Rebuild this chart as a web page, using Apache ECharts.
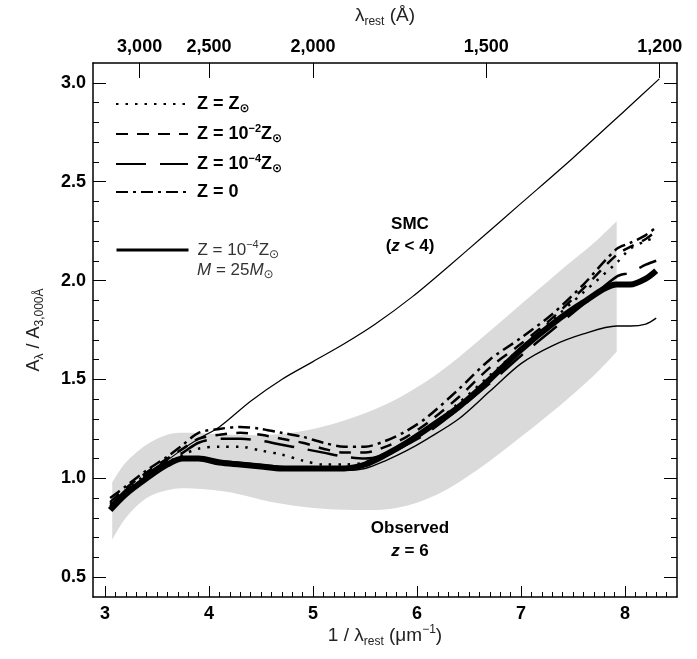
<!DOCTYPE html>
<html><head><meta charset="utf-8">
<script src="https://cdn.jsdelivr.net/npm/echarts@6/dist/echarts.min.js"></script>
<style>html,body{margin:0;padding:0;background:#fff}#c{width:697px;height:659px}</style>
</head><body><div id="c"></div>
<script>
// ---------------- data ----------------
const modelX   = [3.05,3.2,3.4,3.6,3.75,3.9,4.1,4.3,4.5,4.7,4.9,5.1,5.3,5.5,5.7,5.9,6.1,6.4,6.7,7.0,7.3,7.6,7.92,8.05,8.2,8.3];
const zSolar   = [0.87,0.94,1.02,1.08,1.12,1.15,1.16,1.16,1.14,1.12,1.09,1.07,1.07,1.08,1.12,1.18,1.25,1.38,1.52,1.66,1.80,1.94,2.09,2.16,2.20,2.22];
const zE2      = [0.88,0.95,1.03,1.10,1.15,1.20,1.22,1.23,1.22,1.20,1.18,1.15,1.13,1.13,1.16,1.21,1.28,1.41,1.56,1.68,1.81,1.96,2.13,2.17,2.21,2.25];
const zE4      = [0.86,0.94,1.02,1.09,1.13,1.18,1.20,1.20,1.19,1.17,1.15,1.13,1.11,1.10,1.12,1.17,1.23,1.35,1.48,1.62,1.75,1.88,2.02,2.04,2.08,2.10];
const zZero    = [0.90,0.96,1.04,1.11,1.17,1.23,1.25,1.26,1.25,1.23,1.21,1.18,1.16,1.16,1.19,1.24,1.31,1.45,1.60,1.71,1.83,1.98,2.16,2.19,2.23,2.27];
const zE4M25   = [0.84,0.92,1.00,1.07,1.10,1.10,1.08,1.07,1.06,1.05,1.05,1.05,1.05,1.07,1.12,1.18,1.25,1.36,1.50,1.65,1.78,1.89,1.98,1.98,2.01,2.05];
const thinSolid= [0.86,0.93,1.01,1.07,1.10,1.10,1.09,1.08,1.07,1.06,1.05,1.04,1.04,1.05,1.09,1.14,1.20,1.30,1.44,1.58,1.67,1.73,1.77,1.77,1.78,1.81];
const smcX     = [3.05,3.3,3.5,3.7,3.9,4.1,4.4,4.7,5.0,5.3,5.6,5.96,6.3,6.63,7.0,7.5,8.0,8.33];
const smcY     = [0.86,0.96,1.05,1.13,1.20,1.26,1.39,1.50,1.59,1.68,1.78,1.92,2.07,2.22,2.39,2.62,2.86,3.02];
const bandX    = [3.07,3.2,3.4,3.6,3.8,4.2,4.6,5.0,5.4,5.8,6.2,6.6,7.0,7.4,7.7,7.92];
const bandLow  = [0.69,0.80,0.90,0.94,0.95,0.93,0.88,0.85,0.84,0.85,0.92,1.05,1.21,1.38,1.52,1.64];
const bandHigh = [0.98,1.08,1.17,1.22,1.23,1.22,1.22,1.25,1.31,1.40,1.53,1.70,1.88,2.06,2.19,2.30];
const bottomTicks = [3,4,5,6,7,8];
const topTicksA   = [3000,2500,2000,1500,1200];
const yTicks      = [0.5,1.0,1.5,2.0,2.5,3.0];

// ---------------- helpers ----------------
const FONT = "'Liberation Sans', Arial, Helvetica, sans-serif";
const pts = (xs, ys) => xs.map((x, i) => [x, ys[i]]);
const minorX = []; for (let k = 30; k <= 84; k++) minorX.push(k / 10);
const minorY = []; for (let k = 5; k <= 30; k++) minorY.push(k / 10);
const topTickPos = topTicksA.map(l => 1e4 / l);
const XMIN = 2.885, XMAX = 8.5, YMIN = 0.4, YMAX = 3.1;
const AX = { color: '#000', width: 1.5 };

const nameRich = {
  t: { fontFamily: FONT, fontSize: 19, color: '#222', lineHeight: 24 },
  s: { fontFamily: FONT, fontSize: 12, color: '#222', lineHeight: 12, verticalAlign: 'bottom' },
  p: { fontFamily: FONT, fontSize: 12, color: '#222', lineHeight: 12, verticalAlign: 'top' }
};
const yNameRich = {
  t: { fontFamily: FONT, fontSize: 18, color: '#222', lineHeight: 24 },
  s: { fontFamily: FONT, fontSize: 12, color: '#222', lineHeight: 12, verticalAlign: 'bottom' }
};
const legRich = {
  sp: { width: 4 },
  b: { fontFamily: FONT, fontWeight: 'bold', fontSize: 18, color: '#000', lineHeight: 22 },
  bs: { fontFamily: 'DejaVu Sans', fontWeight: 'bold', fontSize: 12, color: '#000', lineHeight: 12, verticalAlign: 'bottom' },
  bp: { fontFamily: FONT, fontWeight: 'bold', fontSize: 11, color: '#000', lineHeight: 12, verticalAlign: 'top' },
  r: { fontFamily: FONT, fontSize: 17, color: '#333', lineHeight: 22 },
  rs: { fontFamily: 'DejaVu Sans', fontSize: 12, color: '#333', lineHeight: 12, verticalAlign: 'bottom' },
  rp: { fontFamily: FONT, fontSize: 11, color: '#333', lineHeight: 12, verticalAlign: 'top' }
};
const legendText = {
  'Z = Z⊙': '{sp|}{b|Z = Z}{bs|⊙}',
  'Z = 10⁻²Z⊙': '{sp|}{b|Z = 10}{bp|−2}{b|Z}{bs|⊙}',
  'Z = 10⁻⁴Z⊙': '{sp|}{b|Z = 10}{bp|−4}{b|Z}{bs|⊙}',
  'Z = 0': '{sp|}{b|Z = 0}',
  'Z = 10⁻⁴Z⊙, M = 25M⊙': '{sp|}{r|Z = 10}{rp|−4}{r|Z}{rs|⊙}'
};

function line(name, data, width, type, z) {
  return { type: 'line', name, data, smooth: 0.3, symbol: 'none', showSymbol: false,
    lineStyle: { color: '#000', width, type, cap: 'butt' }, itemStyle: { color: '#000' }, z, silent: true, animation: false };
}
function xAx(o) { return Object.assign({ type: 'value', min: XMIN, max: XMAX, z: 10, splitLine: { show: false } }, o); }
function yAx(o) { return Object.assign({ type: 'value', min: YMIN, max: YMAX, z: 10, splitLine: { show: false } }, o); }
const tickStyle = { color: '#000', width: 1 };
const lblStyle = { fontFamily: FONT, fontWeight: 'bold', fontSize: 18, color: '#000' };

// Catmull-Rom style smooth path through pixel points (open curve)
function smoothSeg(p, start) {
  let d = (start ? 'M' : 'L') + p[0][0].toFixed(2) + ',' + p[0][1].toFixed(2);
  for (let i = 0; i < p.length - 1; i++) {
    const p0 = p[i - 1] || p[i], p1 = p[i], p2 = p[i + 1], p3 = p[i + 2] || p[i + 1];
    const c1 = [p1[0] + (p2[0] - p0[0]) / 6, p1[1] + (p2[1] - p0[1]) / 6];
    const c2 = [p2[0] - (p3[0] - p1[0]) / 6, p2[1] - (p3[1] - p1[1]) / 6];
    d += 'C' + c1[0].toFixed(2) + ',' + c1[1].toFixed(2) + ' ' + c2[0].toFixed(2) + ',' + c2[1].toFixed(2) +
         ' ' + p2[0].toFixed(2) + ',' + p2[1].toFixed(2);
  }
  return d;
}

const chart = echarts.init(document.getElementById('c'), null, { renderer: 'canvas' });
chart.setOption({
  animation: false,
  backgroundColor: '#fff',
  grid: { left: 93, right: 20, top: 63, bottom: 62, containLabel: false },
  xAxis: [
    xAx({ position: 'bottom',
      axisLine: { show: true, onZero: false, lineStyle: AX },
      axisTick: { show: true, inside: true, length: 5, customValues: minorX, lineStyle: tickStyle },
      axisLabel: { show: false },
      name: '{t|1 / λ}{s|rest}{t| (μm}{p|−1}{t|)}', nameLocation: 'middle', nameGap: 27,
      nameTextStyle: { rich: nameRich } }),
    xAx({ position: 'bottom',
      axisLine: { show: false },
      axisTick: { show: true, inside: true, length: 11, customValues: bottomTicks, lineStyle: tickStyle },
      axisLabel: Object.assign({ show: true, customValues: bottomTicks, margin: 8, formatter: v => String(v) }, lblStyle) }),
    xAx({ position: 'top',
      axisLine: { show: true, onZero: false, lineStyle: AX },
      axisTick: { show: true, inside: true, length: 15, customValues: topTickPos, lineStyle: tickStyle },
      axisLabel: Object.assign({ show: true, customValues: topTickPos, margin: 7,
                   formatter: v => Math.round(1e4 / v).toLocaleString('en-US') }, lblStyle),
      name: '{t|λ}{s|rest}{t| (Å)}', nameLocation: 'middle', nameGap: 35, nameTextStyle: { rich: nameRich } })
  ],
  yAxis: [
    yAx({ position: 'left',
      axisLine: { show: true, onZero: false, lineStyle: AX },
      axisTick: { show: true, inside: true, length: 6, customValues: minorY, lineStyle: tickStyle },
      axisLabel: Object.assign({ show: true, customValues: yTicks, margin: 7, formatter: v => v.toFixed(1) }, lblStyle),
      name: '{t|A}{s|λ}{t| / A}{s|3,000Å}', nameLocation: 'middle', nameGap: 47, nameRotate: 90,
      nameTextStyle: { rich: yNameRich } }),
    yAx({ position: 'left', axisLine: { show: false },
      axisTick: { show: true, inside: true, length: 13, customValues: yTicks, lineStyle: tickStyle },
      axisLabel: { show: false } }),
    yAx({ position: 'right',
      axisLine: { show: true, onZero: false, lineStyle: AX },
      axisTick: { show: true, inside: true, length: 6, customValues: minorY, lineStyle: tickStyle },
      axisLabel: { show: false } }),
    yAx({ position: 'right', axisLine: { show: false },
      axisTick: { show: true, inside: true, length: 13, customValues: yTicks, lineStyle: tickStyle },
      axisLabel: { show: false } })
  ],
  legend: [
    { orient: 'vertical', left: 115, top: 95, padding: 0, itemWidth: 72, itemHeight: 4, itemGap: 8, selectedMode: false,
      data: ['Z = Z⊙', 'Z = 10⁻²Z⊙', 'Z = 10⁻⁴Z⊙', 'Z = 0'],
      formatter: n => legendText[n], textStyle: { rich: legRich },
      itemStyle: { color: 'rgba(0,0,0,0)', borderWidth: 0 } },
    { orient: 'vertical', left: 115, top: 239, padding: 0, itemWidth: 72, itemHeight: 4, selectedMode: false,
      data: ['Z = 10⁻⁴Z⊙, M = 25M⊙'],
      formatter: n => legendText[n], textStyle: { rich: legRich },
      lineStyle: { width: 3 },
      itemStyle: { color: 'rgba(0,0,0,0)', borderWidth: 0 } }
  ],
  series: [
    { type: 'custom', name: 'observed', coordinateSystem: 'cartesian2d', xAxisIndex: 0, yAxisIndex: 0, z: 1, silent: true,
      data: bandX.map((x, i) => [x, bandLow[i], bandHigh[i]]),
      encode: { x: 0, y: [1, 2] },
      renderItem: (params, api) => {
        if (params.dataIndex !== 0) return null;
        const up = bandX.map((x, i) => api.coord([x, bandHigh[i]]));
        const lo = bandX.map((x, i) => api.coord([x, bandLow[i]])).reverse();
        const d = smoothSeg(up, true) + smoothSeg(lo, false) + 'Z';
        return { type: 'path', shape: { pathData: d }, style: { fill: '#dadada', stroke: null } };
      } },
    line('Z = 10⁻⁴Z⊙, M = 25M⊙', pts(modelX, zE4M25), 6, 'solid', 3),
    line('thin', pts(modelX, thinSolid), 1.4, 'solid', 3),
    line('Z = Z⊙', pts(modelX, zSolar), 2.5, [2.5, 7], 4),
    line('Z = 10⁻²Z⊙', pts(modelX, zE2), 2.5, [12, 9], 4),
    line('Z = 10⁻⁴Z⊙', pts(modelX, zE4), 2.5, [30, 14], 4),
    line('Z = 0', pts(modelX, zZero), 2.5, [12, 5, 3, 5], 4),
    line('SMC', pts(smcX, smcY), 1.2, 'solid', 5)
  ],
  graphic: [
    { type: 'text', z: 100, x: 197, y: 270, style: { text: '{i|M}{t| = 25}{i|M}{s|⊙}', align: 'left', verticalAlign: 'middle',
      rich: { i: { fontFamily: FONT, fontStyle: 'italic', fontSize: 17, fill: '#333', lineHeight: 22 },
              t: { fontFamily: FONT, fontSize: 17, fill: '#333', lineHeight: 22 },
              s: { fontFamily: 'DejaVu Sans', fontSize: 12, fill: '#333', lineHeight: 12, verticalAlign: 'bottom' } } } },
    { type: 'text', z: 100, x: 410, y: 224, style: { text: 'SMC', align: 'center', verticalAlign: 'middle',
      font: "bold 17px 'Liberation Sans', Arial, sans-serif", fill: '#000' } },
    { type: 'text', z: 100, x: 410, y: 246, style: { text: '{t|(}{i|z}{t| < 4)}', align: 'center', verticalAlign: 'middle',
      rich: { t: { fontFamily: FONT, fontWeight: 'bold', fontSize: 17, fill: '#000' },
              i: { fontFamily: FONT, fontWeight: 'bold', fontStyle: 'italic', fontSize: 17, fill: '#000' } } } },
    { type: 'text', z: 100, x: 410, y: 528, style: { text: 'Observed', align: 'center', verticalAlign: 'middle',
      font: "bold 17px 'Liberation Sans', Arial, sans-serif", fill: '#000' } },
    { type: 'text', z: 100, x: 410, y: 551, style: { text: '{i|z}{t| = 6}', align: 'center', verticalAlign: 'middle',
      rich: { t: { fontFamily: FONT, fontWeight: 'bold', fontSize: 17, fill: '#000' },
              i: { fontFamily: FONT, fontWeight: 'bold', fontStyle: 'italic', fontSize: 17, fill: '#000' } } } }
  ]
});
</script></body></html>
